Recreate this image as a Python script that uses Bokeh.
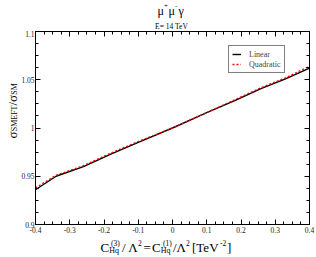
import math
from bokeh.plotting import figure
from bokeh.layouts import column, row
from bokeh.models import Label, Legend, LegendItem, LinearAxis, FixedTicker, Range1d
from bokeh.embed import file_html
from bokeh.resources import INLINE

# ---------------- data ----------------
x_vals = [-0.4, -0.34, -0.26, -0.18, -0.1, 0.0, 0.1, 0.18, 0.26, 0.33, 0.4]
linear = [0.936, 0.950, 0.960, 0.973, 0.985, 1.000, 1.016, 1.028, 1.041, 1.051, 1.062]
quadratic = [0.938, 0.951, 0.961, 0.974, 0.986, 1.000, 1.016, 1.029, 1.042, 1.052, 1.064]
series_names = ["Linear", "Quadratic"]

x_ticks = [-0.4, -0.3, -0.2, -0.1, 0.0, 0.1, 0.2, 0.3, 0.4]
x_tick_labels = ["-0.4", "-0.3", "-0.2", "-0.1", "0", "0.1", "0.2", "0.3", "0.4"]
y_ticks = [0.9, 0.95, 1.0, 1.05, 1.1]
y_tick_labels = ["0.9", "0.95", "1", "1.05", "1.1"]

# ---------------- layout constants ----------------
FONT = "Liberation Serif"
TOTAL_W, TOTAL_H = 316, 257
TITLE_H = 30
YLAB_W = 18
MAIN_W = TOTAL_W - YLAB_W
XLAB_H = 22
MAIN_H = TOTAL_H - TITLE_H - XLAB_H


def blank_fig(w, h):
    f = figure(width=w, height=h, output_backend="svg", toolbar_location=None,
               x_axis_type=None, y_axis_type=None, min_border=0,
               x_range=Range1d(0, 1), y_range=Range1d(0, 1))
    f.grid.visible = False
    f.outline_line_color = None
    f.background_fill_color = "white"
    f.border_fill_color = "white"
    return f


def put(fig, org_x, org_y, fig_h, text, px, py, size, angle=0.0, align="left"):
    """Place a text given page coordinates; fig frame spans the whole figure."""
    fig.add_layout(Label(x=px - org_x, y=(org_y + fig_h) - py,
                         x_units="screen", y_units="screen", text=text,
                         text_font=FONT, text_font_size=f"{size}px", text_color="black",
                         angle=angle, text_align=align, text_baseline="alphabetic"))


# ---------------- main plot ----------------
p = figure(width=MAIN_W, height=MAIN_H, output_backend="svg", toolbar_location=None,
           x_range=Range1d(-0.4, 0.4), y_range=Range1d(0.9, 1.1),
           min_border_left=15, min_border_right=7, min_border_top=1, min_border_bottom=10,
           x_axis_type=None, y_axis_type=None)
p.grid.visible = False
p.outline_line_color = None
p.background_fill_color = "white"
p.border_fill_color = "white"

x_minor = [round(-0.4 + i * 0.025, 4) for i in range(33)]
y_minor = [round(0.9 + i * 0.0125, 5) for i in range(17)]
xticker = FixedTicker(ticks=x_ticks, minor_ticks=x_minor)
yticker = FixedTicker(ticks=y_ticks, minor_ticks=y_minor)


def style_axis(ax, show_labels, standoff):
    ax.axis_line_color = "black"
    ax.axis_line_width = 1
    ax.major_tick_line_color = "black"
    ax.minor_tick_line_color = "black"
    ax.major_tick_in = 5
    ax.major_tick_out = 0
    ax.minor_tick_in = 3
    ax.minor_tick_out = 0
    ax.major_label_standoff = standoff
    ax.major_label_text_font = FONT
    if show_labels:
        ax.major_label_text_color = "#222222"
        ax.major_label_text_font_size = "7.5px"
    else:
        ax.major_label_text_color = None
        ax.major_label_text_font_size = "0px"


bottom = LinearAxis(ticker=xticker, major_label_overrides=dict(zip(x_ticks, x_tick_labels)))
style_axis(bottom, True, 2)
p.add_layout(bottom, "below")
left = LinearAxis(ticker=yticker, major_label_overrides=dict(zip(y_ticks, y_tick_labels)))
style_axis(left, True, 1)
p.add_layout(left, "left")
top = LinearAxis(ticker=xticker)
style_axis(top, False, 0)
p.add_layout(top, "above")
right = LinearAxis(ticker=yticker)
style_axis(right, False, 0)
p.add_layout(right, "right")

r1 = p.line(x_vals, linear, line_color="black", line_width=1.4)
r2 = p.line(x_vals, quadratic, line_color="red", line_width=1.3, line_dash="2 2")

legend = Legend(items=[LegendItem(label=series_names[0], renderers=[r1]),
                       LegendItem(label=series_names[1], renderers=[r2])],
                location=(193, 151), padding=3, spacing=0, margin=0,
                label_height=10, glyph_height=10, glyph_width=9, label_standoff=8,
                label_text_font=FONT, label_text_font_size="8px",
                border_line_color="black", border_line_width=1,
                background_fill_color="white", background_fill_alpha=1)
p.add_layout(legend)

# ---------------- title strip ----------------
t = blank_fig(TOTAL_W, TITLE_H)
put(t, 0, 0, TITLE_H, "\u03bc", 157, 10, 12)
put(t, 0, 0, TITLE_H, "+", 163.5, 5, 7)
put(t, 0, 0, TITLE_H, "\u03bc", 168, 10, 12)
put(t, 0, 0, TITLE_H, "-", 174.5, 5, 7)
put(t, 0, 0, TITLE_H, "\u03b3", 178, 10, 12)
put(t, 0, 0, TITLE_H, "E= 14 TeV", 171, 25.5, 7.5, align="center")

# ---------------- y label strip ----------------
yl = blank_fig(YLAB_W, MAIN_H)
A = math.pi / 2
put(yl, 0, TITLE_H, MAIN_H, "\u03c3", 12, 149, 13, A)
put(yl, 0, TITLE_H, MAIN_H, "SMEFT", 14, 141.8, 8, A)
put(yl, 0, TITLE_H, MAIN_H, "/\u03c3", 12, 116, 13, A)
put(yl, 0, TITLE_H, MAIN_H, "SM", 14, 105.2, 8, A)

# ---------------- x label strip ----------------
xl = blank_fig(TOTAL_W, XLAB_H)
OY = TITLE_H + MAIN_H
MB, SB, PB = 247, 250, 242.5
xl_parts = [
    ("C", 100, MB, 13), ("Hq", 108.7, SB, 8), ("(3)", 110.5, PB, 7.5),
    ("/ \u039b", 121.5, MB, 13), ("2", 137.5, PB, 7.5),
    ("=", 143, MB, 13), ("C", 151.5, MB, 13), ("Hq", 160.2, SB, 8), ("(1)", 162.5, PB, 7.5),
    ("/\u039b", 172.5, MB, 13), ("2", 185.5, PB, 7.5),
    ("[TeV", 191.5, MB, 13), ("-2", 219.5, PB, 7.5), ("]", 226.5, MB, 13),
]
for txt, px, py, sz in xl_parts:
    put(xl, 0, OY, XLAB_H, txt, px, py, sz)

layout = column(t, row(yl, p, spacing=0), xl, spacing=0)
open("out.html", "w").write(file_html(layout, INLINE))
